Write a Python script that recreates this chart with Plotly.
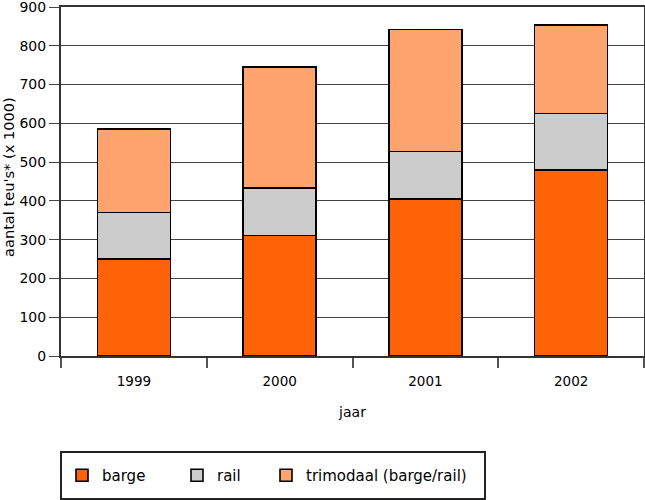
import plotly.graph_objects as go

years = ["1999", "2000", "2001", "2002"]
barge = [250, 311, 405, 480]
rail = [120, 122, 122, 145]
trimodaal = [215, 312, 315, 228]

series_names = ["barge", "rail", "trimodaal (barge/rail)"]
series_values = [barge, rail, trimodaal]
colors = ["#FF6308", "#CCCCCC", "#FFA46E"]
legend_ids = ["legend", "legend2", "legend3"]

FONT = "DejaVu Sans"

fig = go.Figure()
for name, vals, col, lg in zip(series_names, series_values, colors, legend_ids):
    fig.add_trace(go.Bar(
        x=years, y=vals, name=name, legend=lg, showlegend=True,
        marker=dict(color=col, line=dict(color="#000000", width=1.6)),
    ))

W, H = 645, 500
ml, mr, mt, mb = 61, 1, 7, 144
pw = W - ml - mr
ph = H - mt - mb

def px_x(px):
    return (px - ml) / pw

def px_y(py):
    return (H - mb - py) / ph

leg_common = dict(orientation="h", yanchor="middle", xanchor="left",
                  bgcolor="rgba(0,0,0,0)", borderwidth=0,
                  font=dict(family=FONT, size=15, color="#000"))

fig.update_layout(
    width=W, height=H,
    showlegend=True,
    margin=dict(l=ml, r=mr, t=mt, b=mb, autoexpand=False),
    paper_bgcolor="white", plot_bgcolor="white",
    barmode="stack", bargap=0.5,
    font=dict(family=FONT, color="#000"),
    legend=dict(x=px_x(62), y=px_y(475.5), **leg_common),
    legend2=dict(x=px_x(177), y=px_y(475.5), **leg_common),
    legend3=dict(x=px_x(266), y=px_y(475.5), **leg_common),
    xaxis=dict(
        type="category", tickson="boundaries", ticks="outside", ticklen=10,
        tickcolor="#555", tickwidth=1.5,
        showline=True, linecolor="#333", linewidth=2, mirror=True,
        tickfont=dict(family=FONT, size=13.5, color="#000"),
        ticklabelstandoff=12,
        title=dict(text="jaar", font=dict(family=FONT, size=14, color="#000"), standoff=19),
        automargin=False,
    ),
    yaxis=dict(
        range=[0, 900], dtick=100, ticks="outside", ticklen=10,
        tickcolor="#444", tickwidth=1,
        showline=True, linecolor="#333", linewidth=2, mirror=True,
        showgrid=True, gridcolor="#444", gridwidth=1,
        tickfont=dict(family=FONT, size=14, color="#000"),
        ticklabeloverflow="allow",
        automargin=False,
    ),
    shapes=[dict(type="rect", xref="paper", yref="paper",
                 x0=px_x(61), x1=px_x(485), y0=px_y(452), y1=px_y(499),
                 line=dict(color="#222", width=2), fillcolor="rgba(0,0,0,0)")],
    annotations=[dict(text="aantal teu's* (x 1000)", xref="paper", yref="paper",
                      x=px_x(8), y=px_y(177), textangle=-90, showarrow=False,
                      xanchor="center", yanchor="middle",
                      font=dict(family=FONT, size=14.6, color="#000"))],
)

fig.write_html("out.html",
               config={"displayModeBar": False},
               post_script="document.body.style.margin='0';document.body.style.padding='0';")
